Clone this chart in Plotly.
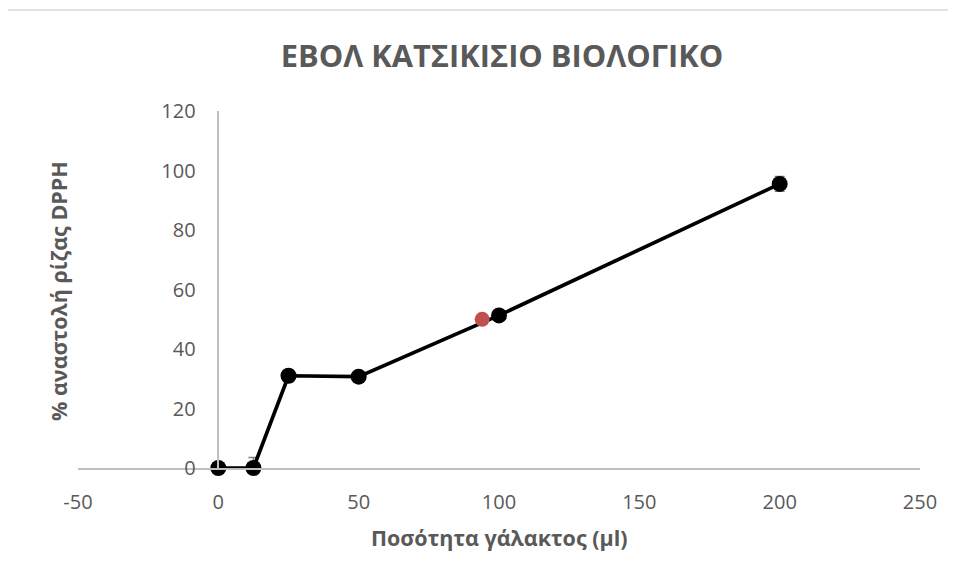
import plotly.graph_objects as go

# Data
x_vals = [0, 12.5, 25, 50, 100, 200]
y_vals = [0, 0, 31.0, 30.7, 51.3, 95.5]
y_err = [0.8, 3.5, 2.0, 0.8, 1.0, 2.5]
ic50_x = [94]
ic50_y = [50]

x_tick_vals = [-50, 0, 50, 100, 150, 200, 250]
x_tick_text = ["-50", "0", "50", "100", "150", "200", "250"]
y_tick_vals = [0, 20, 40, 60, 80, 100, 120]
y_tick_text = ["0", "20", "40", "60", "80", "100", "120"]

title_text = "ΕΒΟΛ ΚΑΤΣΙΚΙΣΙΟ ΒΙΟΛΟΓΙΚΟ"
x_title = "Ποσότητα γάλακτος (μl)"
y_title = "% αναστολή ρίζας DPPH"

OFF = 8  # page body margin
W, H = 956 - OFF, 579 - OFF
# target plot area in page pixels
PL, PR, PT, PB = 78, 920, 111, 468
L, T = PL - OFF, PT - OFF
R = W - (PR - OFF)
B = H - (PB - OFF)
plot_w = PR - PL
plot_h = PB - PT
x_min, x_max = -50, 250
y_min, y_max = 0, 120

gray = "#595959"
axis_gray = "#BFBFBF"
font_family = "Open Sans"


def px_x(p):
    return (p - PL) / plot_w


def px_y(p):
    return (PB - p) / plot_h


fig = go.Figure()
fig.add_trace(go.Scatter(
    x=x_vals, y=y_vals, mode="lines+markers",
    line=dict(color="black", width=3.7),
    marker=dict(color="black", size=16),
    error_y=dict(type="data", array=y_err, visible=True, color="#808080", thickness=1.5, width=5),
    showlegend=False, cliponaxis=False,
))
fig.add_trace(go.Scatter(
    x=ic50_x, y=ic50_y, mode="markers",
    marker=dict(color="#C0504D", size=15),
    showlegend=False, cliponaxis=False,
))

yaxis_pos = (0 - x_min) / (x_max - x_min)

fig.update_layout(
    width=W, height=H,
    margin=dict(l=L, r=R, t=T, b=B, pad=0),
    paper_bgcolor="white", plot_bgcolor="white",
    font=dict(family=font_family, color=gray),
    title=dict(text="<b>" + title_text + "</b>", x=(502 - OFF) / W, xanchor="center",
               y=1 - (56 - OFF) / H, yanchor="middle",
               font=dict(size=30.8, color=gray, family=font_family)),
    xaxis=dict(range=[x_min, x_max], tickmode="array", tickvals=x_tick_vals, ticktext=x_tick_text,
               showgrid=False, zeroline=False,
               showline=True, linecolor=axis_gray, linewidth=1.5, ticks="",
               tickfont=dict(size=20, color=gray), ticklabelstandoff=15),
    yaxis=dict(range=[y_min, y_max], tickmode="array", tickvals=y_tick_vals, ticktext=y_tick_text,
               showgrid=False, zeroline=False,
               showline=True, linecolor=axis_gray, linewidth=1.5, ticks="",
               anchor="free", position=yaxis_pos,
               tickfont=dict(size=20, color=gray), ticklabelstandoff=18),
    annotations=[
        dict(text="<b>" + x_title + "</b>", xref="paper", yref="paper",
             x=px_x(499), y=px_y(537), xanchor="center", yanchor="middle",
             showarrow=False, font=dict(size=21.5, color=gray, family=font_family)),
        dict(text="<b>" + y_title + "</b>", xref="paper", yref="paper",
             x=px_x(58), y=px_y(291), xanchor="center", yanchor="middle",
             textangle=-90, showarrow=False, font=dict(size=21.5, color=gray, family=font_family)),
    ],
    shapes=[
        dict(type="rect", xref="paper", yref="paper",
             x0=px_x(6), x1=px_x(990), y0=px_y(610), y1=px_y(10),
             line=dict(color="#D9D9D9", width=1.5), fillcolor="rgba(0,0,0,0)", layer="below"),
    ],
)

fig.write_html("out.html")
